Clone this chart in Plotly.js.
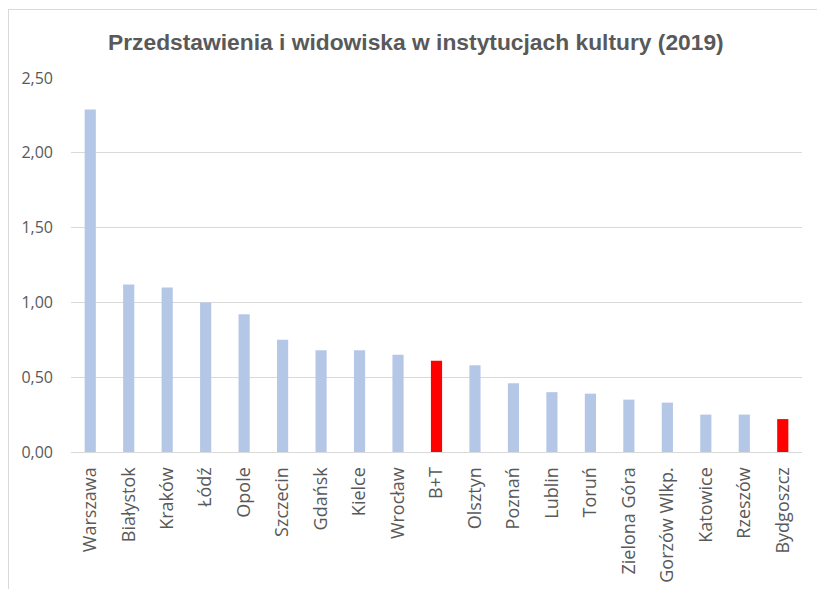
<!DOCTYPE html>
<html>
<head>
<meta charset="utf-8">
<script src="https://cdn.plot.ly/plotly-3.0.1.min.js"></script>
<style>
  body { margin: 0; background: #fff; }
  #chart { width: 817px; height: 589px; }
  #frame { position: absolute; left: 8px; top: 9px; width: 830px; height: 600px;
           border: 1px solid #d9d9d9; pointer-events: none; }
</style>
</head>
<body>
<div id="chart"></div>
<div id="frame"></div>
<script>
var cities = ['Warszawa', 'Białystok', 'Kraków', 'Łódź', 'Opole', 'Szczecin', 'Gdańsk',
              'Kielce', 'Wrocław', 'B+T', 'Olsztyn', 'Poznań', 'Lublin', 'Toruń',
              'Zielona Góra', 'Gorzów Wlkp.', 'Katowice', 'Rzeszów', 'Bydgoszcz'];
var values = [2.29, 1.12, 1.10, 1.00, 0.92, 0.75, 0.68, 0.68, 0.65, 0.61,
              0.58, 0.46, 0.40, 0.39, 0.35, 0.33, 0.25, 0.25, 0.22];
var highlighted = ['B+T', 'Bydgoszcz'];

var colors = [];
for (var i = 0; i < cities.length; i++) {
    colors.push(highlighted.indexOf(cities[i]) >= 0 ? '#ff0000' : '#b4c7e7');
}

var data = [{
    x: cities,
    y: values,
    type: 'bar',
    marker: { color: colors },
    hoverinfo: 'x+y'
}];

var layout = {
    width: 817,
    height: 589,
    margin: { l: 71, r: 15, t: 78, b: 137 },
    paper_bgcolor: '#ffffff',
    plot_bgcolor: '#ffffff',
    separators: ', ',
    bargap: 0.71,
    showlegend: false,
    title: {
        text: '<b>Przedstawienia i widowiska w instytucjach kultury (2019)</b>',
        font: { family: 'Liberation Sans, Arial, sans-serif', size: 22.8, color: '#595959' },
        x: 0.509, xanchor: 'center',
        y: 0.928, yanchor: 'middle'
    },
    xaxis: {
        tickangle: -90,
        tickfont: { family: 'Open Sans, sans-serif', size: 18, color: '#595959' },
        showline: true,
        linecolor: '#d9d9d9',
        linewidth: 1,
        ticks: '',
        ticklabelstandoff: 7
    },
    yaxis: {
        range: [0, 2.5],
        dtick: 0.5,
        tickformat: '.2f',
        tickfont: { family: 'Open Sans, sans-serif', size: 16, color: '#595959' },
        gridcolor: '#d9d9d9',
        gridwidth: 1,
        zeroline: false,
        showline: false,
        ticks: '',
        ticklabelstandoff: 17
    }
};

Plotly.newPlot('chart', data, layout, { displayModeBar: false, staticPlot: true });
</script>
</body>
</html>
